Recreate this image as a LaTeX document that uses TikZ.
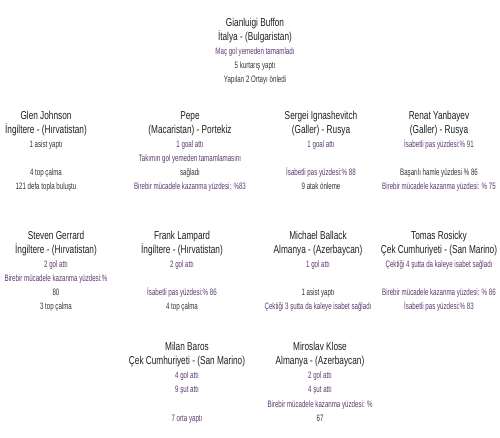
\documentclass[tikz,border=0pt]{standalone}
\usepackage{fontspec}
\setmainfont{Liberation Sans}
\newfontfamily\narrowfont{Liberation Sans}[FakeStretch=0.72]
\newfontfamily\statfont{Liberation Sans}[FakeStretch=0.66]
\definecolor{statcol}{RGB}{92,56,112}
\definecolor{namecol}{RGB}{30,30,30}
\newcommand{\pname}[1]{{\narrowfont\fontsize{8.6}{10.5}\selectfont\color{namecol}#1}}
\newcommand{\pstat}[1]{{\color{statcol}#1}}

\begin{document}
\begin{tikzpicture}[x=0.75pt, y=-0.75pt, player/.style = {anchor=north, align=center, inner sep=0pt, text=black!80, font=\statfont\fontsize{7}{10.5}\selectfont}]
\useasboundingbox (0,0) rectangle (500,438);
\node[player] (buffon) at (255,18) {\pname{Gianluigi Buffon}\\\pname{İtalya - (Bulgaristan)}\\\pstat{Maç gol yemeden tamamladı}\\5 kurtarış yaptı\\Yapılan 2 Ortayı önledi};
\node[player] (johnson) at (46,111) {\pname{Glen Johnson}\\\pname{İngiltere - (Hırvatistan)}\\1 asist yaptı\\[10.5pt]4 top çalma\\121 defa topla buluştu};
\node[player] (pepe) at (190,111) {\pname{Pepe}\\\pname{(Macaristan) - Portekiz}\\\pstat{1 goal attı}\\\pstat{Takımın gol yemeden tamamlamasını}\\sağladı\\\pstat{Birebir mücadele kazanma yüzdesi: \%83}};
\node[player] (sergei) at (321,111) {\pname{Sergei Ignashevitch}\\\pname{(Galler) - Rusya}\\\pstat{1 goal attı}\\[10.5pt]\pstat{İsabetli pas yüzdesi:\% 88}\\9 atak önleme};
\node[player] (renat) at (439,111) {\pname{Renat Yanbayev}\\\pname{(Galler) - Rusya}\\\pstat{İsabetli pas yüzdesi:\% 91}\\[10.5pt]Başarılı hamle yüzdesi \% 86\\\pstat{Birebir mücadele kazanma yüzdesi: \% 75}};
\node[player] (gerrard) at (56,231) {\pname{Steven Gerrard}\\\pname{İngiltere - (Hırvatistan)}\\\pstat{2 gol attı}\\\pstat{Birebir mücadele kazanma yüzdesi:\%}\\80\\3 top çalma};
\node[player] (lampard) at (182,231) {\pname{Frank Lampard}\\\pname{İngiltere - (Hırvatistan)}\\\pstat{2 gol attı}\\[10.5pt]\pstat{İsabetli pas yüzdesi:\% 86}\\4 top çalma};
\node[player] (ballack) at (318,231) {\pname{Michael Ballack}\\\pname{Almanya - (Azerbaycan)}\\\pstat{1 gol attı}\\[10.5pt]1 asist yaptı\\\pstat{Çektiği 3 şutta da kaleye isabet sağladı}};
\node[player] (rosicky) at (439,231) {\pname{Tomas Rosicky}\\\pname{Çek Cumhuriyeti - (San Marino)}\\\pstat{Çektiği 4 şutta da kaleye isabet sağladı}\\[10.5pt]\pstat{Birebir mücadele kazanma yüzdesi: \% 86}\\\pstat{İsabetli pas yüzdesi:\% 83}};
\node[player] (baros) at (187,342) {\pname{Milan Baros}\\\pname{Çek Cumhuriyeti - (San Marino)}\\\pstat{4 gol attı}\\\pstat{9 şut attı}\\[11pt]\pstat{7 orta yaptı}};
\node[player] (klose) at (320,342) {\pname{Miroslav Klose}\\\pname{Almanya - (Azerbaycan)}\\\pstat{2 gol attı}\\\pstat{4 şut attı}\\[1pt]\pstat{Birebir mücadele kazanma yüzdesi: \%}\\67};
\end{tikzpicture}
\end{document}
